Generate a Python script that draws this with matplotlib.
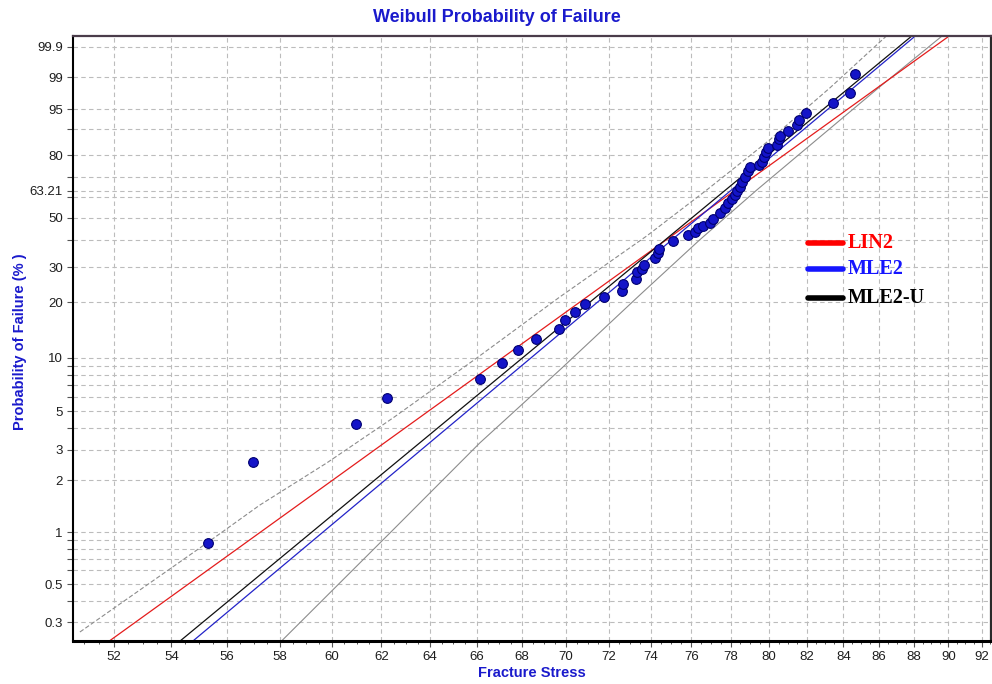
import numpy as np
import matplotlib
matplotlib.use("Agg")
from matplotlib import pyplot as plt
from matplotlib.ticker import FixedLocator, NullLocator, NullFormatter, FormatStrFormatter

# fracture stress of each specimen and its plotted probability of failure (%)
stress = [55.31, 56.97, 60.96, 62.21, 66.14, 67.09, 67.82, 68.61, 69.67, 69.96,
          70.41, 70.88, 71.77, 72.62, 72.65, 73.27, 73.35, 73.56, 73.66, 74.21,
          74.34, 74.42, 75.09, 75.83, 76.18, 76.33, 76.58, 76.94, 77.09, 77.44,
          77.70, 77.85, 78.06, 78.21, 78.31, 78.47, 78.57, 78.73, 78.88, 78.99,
          79.45, 79.61, 79.72, 79.82, 79.93, 80.40, 80.50, 80.55, 80.98, 81.46,
          81.57, 81.95, 83.41, 84.35, 84.63]
prob_fail = [0.87, 2.56, 4.23, 5.97, 7.61, 9.40, 11.04, 12.74, 14.38, 16.07,
             17.73, 19.47, 21.25, 22.81, 24.76, 26.15, 28.50, 29.30, 30.85, 33.11,
             34.95, 36.48, 39.80, 42.32, 43.60, 45.37, 46.20, 47.61, 49.45, 52.28,
             54.67, 57.10, 59.06, 61.04, 63.01, 65.00, 67.46, 69.90, 72.80, 74.68,
             75.60, 76.99, 79.23, 81.38, 83.04, 84.23, 86.50, 87.57, 89.25, 91.09,
             92.47, 94.17, 96.13, 97.57, 99.18]

# fitted Weibull models: shape (beta) and scale (eta)
fit_names = ["LIN2", "MLE2", "MLE2-U"]
fit_shape = [14.75, 17.15, 16.93]
fit_scale = [78.2, 78.0, 77.7]
fit_colors = ["#e41c1c", "#2323c8", "#101010"]
legend_colors = ["#ff0000", "#1515ff", "#000000"]

# confidence bounds
upper_stress = [50.85, 55.28, 57.24, 59.81, 62.47, 66.01, 69.71, 73.81, 76.78, 80.02, 83.25, 86.59]
upper_prob = [0.2624, 0.8675, 1.442, 2.526, 4.578, 9.976, 21.245, 41.89, 63.51, 86.14, 98.13, 99.976]
lower_stress = [57.9, 62.47, 66.14, 69.71, 73.48, 76.42, 79.35, 82.71, 86.02, 89.84]
lower_prob = [0.22, 1.0326, 3.293, 8.553, 21.76, 40.21, 63.51, 87.22, 98.23, 99.976]

x_ticks = list(range(52, 93, 2))
y_grid = [0.3, 0.4, 0.5, 0.6, 0.7, 0.8, 0.9, 1, 2, 3, 4, 5, 6, 7, 8, 9, 10,
          20, 30, 40, 50, 60, 63.21, 70, 80, 90, 95, 99, 99.9]
y_labels = ["0.3", "", "0.5", "", "", "", "", "1", "2", "3", "", "5", "", "", "", "", "10",
            "20", "30", "", "50", "", "63.21", "", "80", "", "95", "99", "99.9"]


def weibull_fwd(p):
    q = np.clip(np.asarray(p, dtype=float) / 100.0, 1e-12, 1 - 1e-15)
    return np.log(-np.log(1 - q))


def weibull_inv(y):
    return 100.0 * (1 - np.exp(-np.exp(np.asarray(y, dtype=float))))


def weibull_cdf(x, beta, eta):
    return 100.0 * (1 - np.exp(-(np.asarray(x) / eta) ** beta))


fig = plt.figure(figsize=(9.92, 6.84), dpi=100)
ax = fig.add_axes([0.0739, 0.0629, 0.925, 0.8845])

ax.set_xscale("log")
ax.set_yscale("function", functions=(weibull_fwd, weibull_inv))
ax.set_xlim(50.63, 92.55)
ax.set_ylim(0.2326, 99.9668)

# grid
ax.set_axisbelow(True)
grid_kw = dict(color="#bcbcbc", lw=0.8, ls=(0, (4, 3)))
ax.grid(True, which="major", **grid_kw)

# confidence bounds
ax.plot(upper_stress, upper_prob, color="#8c8c8c", lw=0.8, ls=(0, (4, 2)))
ax.plot(lower_stress, lower_prob, color="#8c8c8c", lw=0.8)

# fitted lines
x_ends = np.array([50.5, 92.6])
for name, b, e, c in zip(fit_names, fit_shape, fit_scale, fit_colors):
    ax.plot(x_ends, weibull_cdf(x_ends, b, e), color=c, lw=0.9)

# observations
ax.plot(stress, prob_fail, ls="none", marker="o", ms=7,
        markerfacecolor="#1414c8", markeredgecolor="#000070", markeredgewidth=0.8)

# legend
for i, (name, c) in enumerate(zip(fit_names, legend_colors)):
    y = [0.6579, 0.6149, 0.5669][i]
    ax.plot([0.8006, 0.8387], [y, y], transform=ax.transAxes, color=c, lw=4,
            solid_capstyle="round")
    ax.text(0.8442, y, name, transform=ax.transAxes, color=c, va="center", ha="left",
            fontsize=14.5, fontweight="bold", family="Liberation Serif")

# ticks
ax.xaxis.set_major_locator(FixedLocator(x_ticks))
ax.xaxis.set_major_formatter(FormatStrFormatter("%d"))
ax.xaxis.set_minor_locator(FixedLocator(np.arange(50.5, 92.6, 0.5)))
ax.xaxis.set_minor_formatter(NullFormatter())
ax.set_yticks(y_grid, labels=y_labels)
ax.yaxis.set_minor_locator(NullLocator())
ax.tick_params(axis="both", which="major", direction="out", length=4, width=0.8,
               colors="#555555", labelcolor="#1e1e1e", labelsize=9.5)
ax.tick_params(axis="x", which="minor", direction="out", length=2.5, width=0.7, colors="#555555")
for lab in ax.get_xticklabels() + ax.get_yticklabels():
    lab.set_family("Liberation Sans")

# frame
ax.spines["left"].set_linewidth(1.5)
ax.spines["left"].set_color("#000000")
ax.spines["bottom"].set_linewidth(2.2)
ax.spines["bottom"].set_color("#000000")
ax.spines["top"].set_linewidth(1.6)
ax.spines["top"].set_color("#4a3c4a")
ax.spines["right"].set_linewidth(1.6)
ax.spines["right"].set_color("#2a2a2a")

label_kw = dict(color="#1a1acc", fontweight="bold", family="Liberation Sans", fontsize=10.5)
ax.set_xlabel("Fracture Stress", **label_kw)
ax.xaxis.set_label_coords(0.5, -0.042)
ax.set_ylabel("Probability of Failure (% )", **label_kw)
ax.yaxis.set_label_coords(-0.051, 0.495)
fig.text(0.501, 0.975, "Weibull Probability of Failure", ha="center", va="center",
         color="#1a1acc", fontweight="bold", family="Liberation Sans", fontsize=13)

fig.savefig("out.png", dpi=100)
